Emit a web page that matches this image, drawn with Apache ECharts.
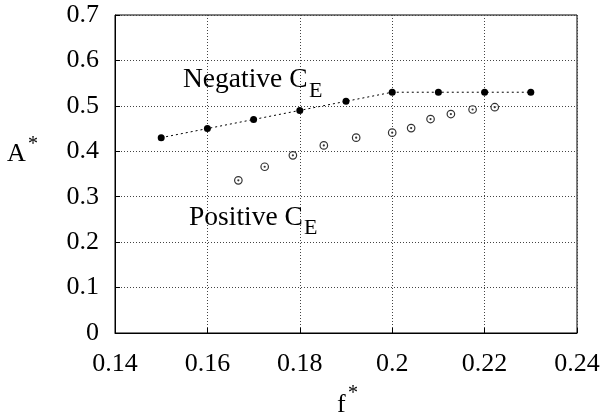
<!DOCTYPE html>
<html>
<head>
<meta charset="utf-8">
<script src="https://cdn.jsdelivr.net/npm/echarts@6/dist/echarts.min.js"></script>
<style>
html,body{margin:0;padding:0;background:#fff;}
#chart{width:605px;height:419px;}
</style>
</head>
<body>
<div id="chart"></div>
<script>
// Negative C_E (filled dots, dotted line)
const negF = [0.150, 0.160, 0.170, 0.180, 0.190, 0.200, 0.210, 0.220, 0.230];
const negA = [0.430, 0.450, 0.470, 0.490, 0.510, 0.530, 0.530, 0.530, 0.530];
// Positive C_E (open circles with centre dot)
const posF = [0.1667, 0.1724, 0.1785, 0.1852, 0.1922, 0.2000, 0.2041, 0.2083, 0.2127, 0.2174, 0.2222];
const posA = [0.336, 0.366, 0.391, 0.413, 0.430, 0.441, 0.451, 0.471, 0.482, 0.492, 0.497];
// Axis ticks
const xTicks = [0.14, 0.16, 0.18, 0.2, 0.22, 0.24];
const yTicks = [0, 0.1, 0.2, 0.3, 0.4, 0.5, 0.6, 0.7];

const FONT = "'Liberation Serif', 'Times New Roman', serif";
const negData = negF.map((f, i) => [f, negA[i]]);
const posData = posF.map((f, i) => [f, posA[i]]);

const chart = echarts.init(document.getElementById('chart'), null, {renderer: 'canvas'});
const gridLine = {show: true, lineStyle: {color: '#444', type: [1, 2], width: 1}};
chart.setOption({
  animation: false,
  backgroundColor: '#fff',
  grid: {left: 115, right: 28, top: 15, bottom: 86, show: true, borderColor: '#000', borderWidth: 1, backgroundColor: 'transparent'},
  xAxis: {
    type: 'value', min: xTicks[0], max: xTicks[xTicks.length - 1], interval: 0.02,
    axisLine: {show: true, onZero: false, lineStyle: {color: '#000', width: 1}},
    axisTick: {show: true, inside: true, length: 5, lineStyle: {color: '#000'}},
    axisLabel: {color: '#000', fontSize: 26, fontFamily: FONT, margin: 18},
    splitLine: gridLine
  },
  yAxis: {
    type: 'value', min: yTicks[0], max: yTicks[yTicks.length - 1], interval: 0.1,
    axisLine: {show: true, onZero: false, lineStyle: {color: '#000', width: 1}},
    axisTick: {show: true, inside: true, length: 5, lineStyle: {color: '#000'}},
    axisLabel: {color: '#000', fontSize: 26, fontFamily: FONT, margin: 16},
    splitLine: gridLine
  },
  series: [
    {
      type: 'line', data: negData, symbol: 'circle', symbolSize: 7,
      itemStyle: {color: '#000'},
      lineStyle: {color: '#000', width: 1, type: [2, 3]},
      z: 3
    },
    {
      type: 'scatter', data: posData, symbol: 'circle', symbolSize: 7.5,
      itemStyle: {color: '#fff', borderColor: '#000', borderWidth: 1.2},
      z: 3
    },
    {
      type: 'scatter', data: posData, symbol: 'circle', symbolSize: 2.2,
      itemStyle: {color: '#000'},
      z: 4
    }
  ],
  graphic: [
    {type: 'text', style: {text: 'Negative C', x: 183, y: 80, font: '27.5px ' + FONT, fill: '#000', textVerticalAlign: 'middle'}, z: 10},
    {type: 'text', style: {text: 'E', x: 309, y: 91, font: '22px ' + FONT, fill: '#000', textVerticalAlign: 'middle'}, z: 10},
    {type: 'text', style: {text: 'Positive C', x: 189, y: 218, font: '27.5px ' + FONT, fill: '#000', textVerticalAlign: 'middle'}, z: 10},
    {type: 'text', style: {text: 'E', x: 304, y: 228, font: '22px ' + FONT, fill: '#000', textVerticalAlign: 'middle'}, z: 10},
    {type: 'text', style: {text: 'A', x: 7, y: 154, font: '26px ' + FONT, fill: '#000', textVerticalAlign: 'middle'}, z: 10},
    {type: 'text', style: {text: '*', x: 28, y: 145, font: '20px ' + FONT, fill: '#000', textVerticalAlign: 'middle'}, z: 10},
    {type: 'text', style: {text: 'f', x: 337, y: 405, font: '26px ' + FONT, fill: '#000', textVerticalAlign: 'middle'}, z: 10},
    {type: 'text', style: {text: '*', x: 348, y: 394, font: '20px ' + FONT, fill: '#000', textVerticalAlign: 'middle'}, z: 10}
  ]
});
</script>
</body>
</html>
